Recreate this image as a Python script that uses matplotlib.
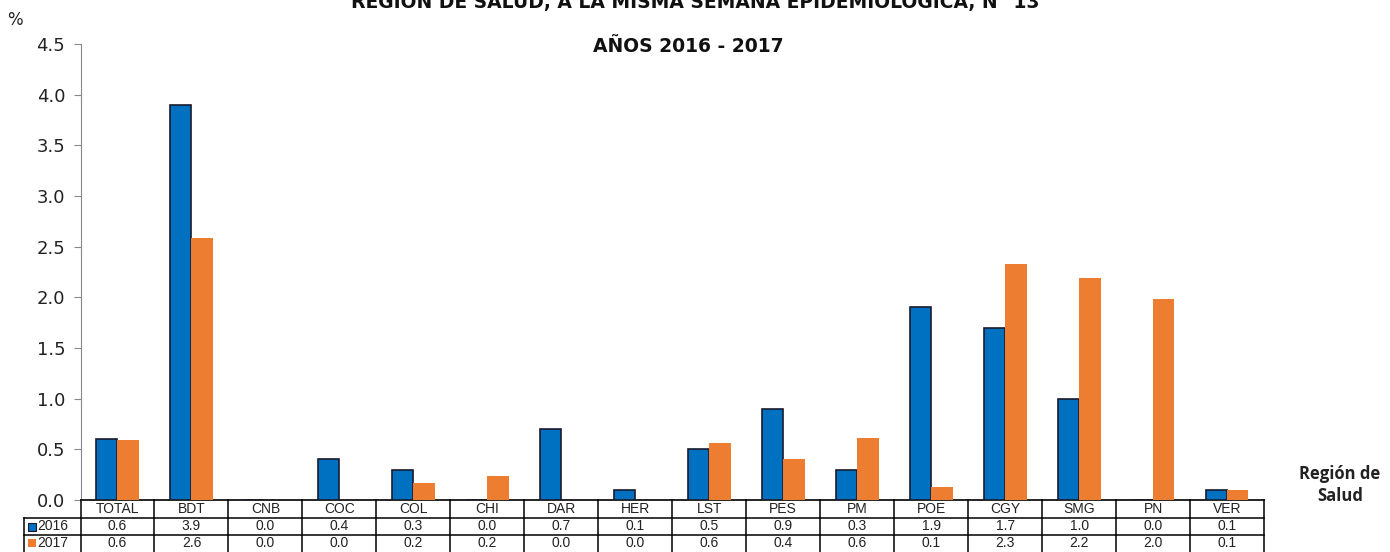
import matplotlib
matplotlib.use("Agg")
import matplotlib.pyplot as plt
from matplotlib.patches import Rectangle

# regiones de salud y tasas (%)
regions = ["TOTAL", "BDT", "CNB", "COC", "COL", "CHI", "DAR", "HER",
           "LST", "PES", "PM", "POE", "CGY", "SMG", "PN", "VER"]
vals_2016 = [0.60, 3.90, 0.0, 0.40, 0.30, 0.0, 0.70, 0.10,
             0.50, 0.90, 0.30, 1.90, 1.70, 1.00, 0.0, 0.10]
vals_2017 = [0.59, 2.59, 0.0, 0.0, 0.17, 0.24, 0.0, 0.0,
             0.56, 0.40, 0.61, 0.13, 2.33, 2.19, 1.98, 0.10]
years = ["2016", "2017"]
yticks = [0.0, 0.5, 1.0, 1.5, 2.0, 2.5, 3.0, 3.5, 4.0, 4.5]

BLUE = "#0070C0"
ORANGE = "#ED7D31"
W, H = 1390, 552

fig = plt.figure(figsize=(W / 100, H / 100), dpi=100)
ax_l, ax_r, ax_t, ax_b = 80.5, 1264, 44, 500
ax = fig.add_axes([ax_l / W, 1 - ax_b / H, (ax_r - ax_l) / W, (ax_b - ax_t) / H])

n = len(regions)
x = list(range(n))
bw = 0.29
ax.bar([i - bw / 2 for i in x], vals_2016, width=bw, color=BLUE,
       edgecolor="#1a1a2e", linewidth=1.2, zorder=3)
ax.bar([i + bw / 2 for i in x], vals_2017, width=bw, color=ORANGE,
       edgecolor="none", zorder=3)

ax.set_xlim(-0.5, n - 0.5)
ax.set_ylim(0, 4.5)
ax.set_yticks(yticks)
ax.set_yticklabels([f"{v:.1f}" for v in yticks], fontsize=13,
                   family="DejaVu Sans", color="#222222")
ax.tick_params(axis="y", direction="out", length=5, color="#888888", pad=6)
ax.set_xticks([])
for s in ["top", "right"]:
    ax.spines[s].set_visible(False)
ax.spines["left"].set_color("#888888")
ax.spines["bottom"].set_color("black")
ax.spines["bottom"].set_linewidth(1.2)

# tabla de datos bajo el eje
ax_h = ax_b - ax_t
px = 1.0 / ax_h
trans = ax.get_xaxis_transform()
row_y = [0.0, -18 * px, -35 * px, -53 * px]
lab_left = -0.5 - (ax_l - 24) / (ax_r - ax_l) * n
line_kw = dict(color="black", lw=1.1, transform=trans, clip_on=False)

for k in range(n + 1):
    ax.plot([k - 0.5, k - 0.5], [row_y[0], row_y[3]], **line_kw)
ax.plot([lab_left, lab_left], [row_y[1], row_y[3]], **line_kw)
for yy in row_y[1:3]:
    ax.plot([lab_left, n - 0.5], [yy, yy], **line_kw)

tkw = dict(transform=trans, ha="center", va="center", fontsize=10,
           family="Liberation Sans", color="#222222", clip_on=False)
for i, r in enumerate(regions):
    ax.text(i, (row_y[0] + row_y[1]) / 2, r, **tkw)
    ax.text(i, (row_y[1] + row_y[2]) / 2, f"{vals_2016[i]:.1f}", **tkw)
    ax.text(i, (row_y[2] + row_y[3]) / 2 + 1 * px, f"{vals_2017[i]:.1f}", **tkw)

cell_px = (ax_r - ax_l) / n
for j, (yr, col, ec) in enumerate(zip(years, [BLUE, ORANGE], ["#1a1a2e", "none"])):
    yc = (row_y[j + 1] + row_y[j + 2]) / 2 + (1 * px if j else 0)
    sq = 8 / cell_px
    ax.add_patch(Rectangle((lab_left + 4 / cell_px, yc - 4 * px), sq, 8 * px,
                           facecolor=col, edgecolor=ec, lw=0.8,
                           transform=trans, clip_on=False))
    ax.text(lab_left + 13 / cell_px, yc, yr, transform=trans, ha="left",
            va="center", fontsize=10, family="Liberation Sans",
            color="#222222", clip_on=False)

# titulos y etiquetas
fig.text(0.5, 1 - 8 / H, "REGION DE SALUD, A LA MISMA SEMANA EPIDEMIOLOGICA, N° 13",
         ha="center", va="baseline", fontsize=13.5, fontweight="bold",
         family="DejaVu Sans", color="#111111")
fig.text(688 / W, 1 - 47 / H, "AÑOS 2016 - 2017", ha="center", va="center",
         fontsize=13.5, fontweight="bold", family="DejaVu Sans", color="#111111")
fig.text(15 / W, 1 - 20 / H, "%", ha="center", va="center", fontsize=12,
         family="DejaVu Sans", color="#222222")
fig.text(1340 / W, 1 - 485 / H, "Región de\nSalud", ha="center", va="center",
         fontsize=12, fontweight="bold", family="Open Sans", color="#222222",
         linespacing=1.3)

fig.savefig("out.png", dpi=100)
